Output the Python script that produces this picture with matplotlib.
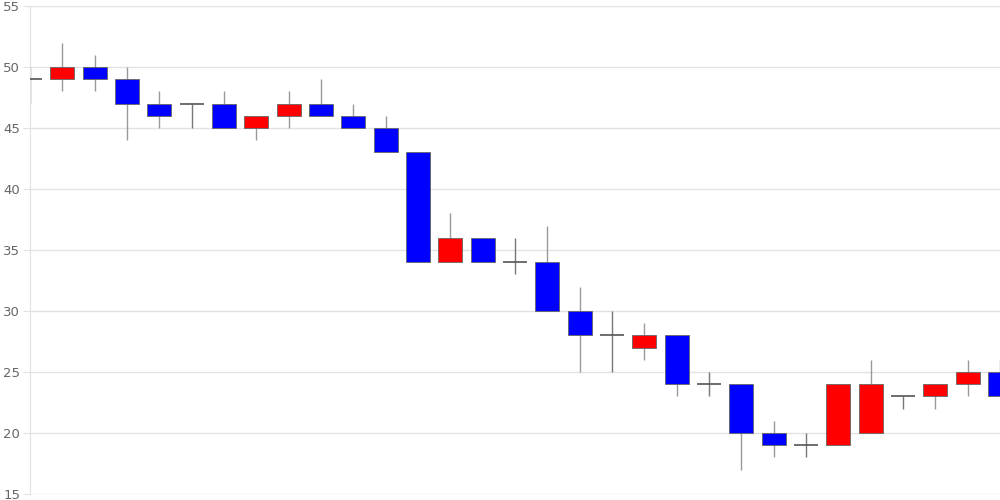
import matplotlib
matplotlib.use("Agg")
import matplotlib.pyplot as plt

# CANDLE DATA (open, close, high, low)
opens  = [49, 49, 50, 49, 47, 47, 47, 45, 46, 47, 46, 45, 43, 34, 36, 34, 34, 30, 28, 27,
          28, 24, 24, 20, 19, 19, 20, 23, 23, 24, 25]
closes = [49, 50, 49, 47, 46, 47, 45, 46, 47, 46, 45, 43, 34, 36, 34, 34, 30, 28, 28, 28,
          24, 24, 20, 19, 19, 24, 24, 23, 24, 25, 23]
highs  = [50, 52, 51, 50, 48, 47, 48, 46, 48, 49, 47, 46, 43, 38, 36, 36, 37, 32, 30, 29,
          28, 25, 24, 21, 20, 24, 26, 23, 24, 26, 26]
lows   = [47, 48, 48, 44, 45, 45, 45, 44, 45, 46, 45, 43, 34, 34, 34, 33, 30, 25, 25, 26,
          23, 23, 17, 18, 18, 19, 20, 22, 22, 23, 23]
yticks = [15, 20, 25, 30, 35, 40, 45, 50, 55]

fig = plt.figure(figsize=(10, 5), dpi=100)
ax = fig.add_axes([0.03, 0.012, 0.97, 0.976])

width = 0.74
for i in range(len(opens)):
    o, c, h, l = opens[i], closes[i], highs[i], lows[i]
    if o == c:
        ax.vlines(i, l, h, color='#777777', linewidth=1, zorder=2)
        ax.hlines(o, i - width / 2, i + width / 2, color='#555555', linewidth=1.2, zorder=3)
        continue
    ax.vlines(i, l, h, color='#999999', linewidth=1, zorder=2)
    color = '#ff0000' if c > o else '#0000ff'
    ax.bar(i, abs(c - o), bottom=min(o, c), width=width, color=color,
           edgecolor='#666666', linewidth=0.6, zorder=3)

# AXES STYLE
ax.set_xlim(0, 30)
ax.set_ylim(15, 55)
ax.set_yticks(yticks)
ax.set_xticks([])
ax.grid(axis='y', color='#e2e2e2', linewidth=1)
ax.set_axisbelow(True)
for s in ['top', 'right', 'bottom']:
    ax.spines[s].set_visible(False)
ax.spines['left'].set_color('#e2e2e2')
ax.tick_params(axis='y', colors='#e2e2e2', labelcolor='#666666', labelsize=9.5, length=5, pad=2)

fig.savefig("out.png", dpi=100)
